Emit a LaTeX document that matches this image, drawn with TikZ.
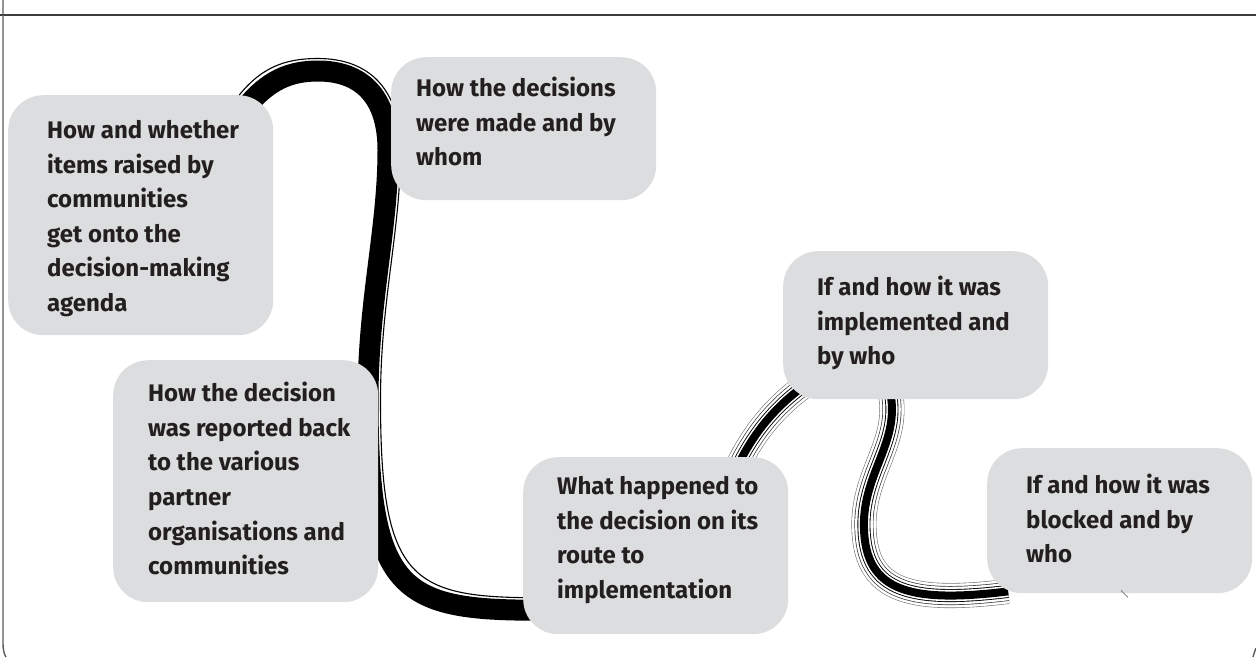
\documentclass[tikz,border=0pt]{standalone}
\usepackage{fontspec}
\setmainfont{Fira Sans}
\usetikzlibrary{backgrounds}
\definecolor{boxgray}{HTML}{DCDDDE}
\definecolor{txtc}{HTML}{231F20}
\definecolor{framec}{HTML}{3C3C3C}
\newcommand\drawstrand[1]{%
  \foreach \w/\c in {25/black!55, 23.8/white, 19/black!80, 17.6/white, 13/black, 11.2/white, 8/black}
    {\draw[line width=\w pt, draw=\c] #1;}}
\begin{document}
\begin{tikzpicture}[x=1pt,y=-1pt,
  box/.style={draw=none, fill=boxgray, rounded corners=35pt, minimum width=265pt, anchor=north west, inner sep=0pt},
  txt/.style={anchor=north west, inner sep=0pt, align=left, text=txtc, font=\bfseries\fontsize{24}{34.6}\selectfont},
  band/.style={line width=21pt, draw=black},
  bandedge/.style={line width=1.1pt, draw=black},
  frameline/.style={line width=2.2pt, draw=framec},
  sideline/.style={line width=1.4pt, draw=black!65}]
\useasboundingbox (0,0) rectangle (1256,657);
% frame
\draw[frameline] (0,15) -- (1256,15);
\draw[sideline] (3,0) -- (3,642) .. controls (3,650) and (4,654) .. (6,657);
\draw[sideline] (1256,648) .. controls (1254.5,652) and (1253.5,655) .. (1253,657);
% boxes
\node[box, minimum height=240pt] (a) at (8,95) {};
\node[box, minimum height=143pt] (b) at (391,57) {};
\node[box, minimum height=242pt] (c) at (113,360) {};
\node[box, minimum height=177pt] (d) at (523,457) {};
\node[box, minimum height=148pt] (e) at (783,251) {};
\node[box, minimum height=145pt] (f) at (987,448) {};
% texts
\node[txt] (ta) at ([shift={(39,25)}]a.north west) {How and whether\\items raised by\\communities\\get onto the\\decision-making\\agenda};
\node[txt] (tb) at ([shift={(25,20)}]b.north west) {How the decisions\\were made and by\\whom};
\node[txt] (tc) at ([shift={(35,22)}]c.north west) {How the decision\\was reported back\\to the various\\partner\\organisations and\\communities};
\node[txt] (td) at ([shift={(34,19)}]d.north west) {What happened to\\the decision on its\\route to\\implementation};
\node[txt] (te) at ([shift={(34,25)}]e.north west) {If and how it was\\implemented and\\by who};
\node[txt] (tf) at ([shift={(39,26)}]f.north west) {If and how it was\\blocked and by\\who};
\begin{pgfonlayer}{background}
% main thick band from a to d
\draw[band] ([shift={(-28,13)}]a.north east) .. controls (268,80) and (290,71) .. (318,71)
  .. controls (360,71) and (388,95) .. (388,150)
  .. controls (388,230) and (368,300) .. (368,400)
  .. controls (368,590) and (400,610) .. ([shift={(12,64.5)}]d.west);
\draw[bandedge] ([shift={(-38,5)}]a.north east) .. controls (260,67) and (285,58.5) .. (318,58.5)
  .. controls (368,58.5) and (400.5,88) .. (400.5,150)
  .. controls (400.5,232) and (380.5,300) .. (380.5,400)
  .. controls (380.5,578) and (410,597.5) .. ([shift={(12,52)}]d.west);
% strands d -> e -> f
\drawstrand{([shift={(80,13)}]d.north) .. controls (752,435) and (775,405) .. ([shift={(29,-19)}]e.south west)}
\drawstrand{([shift={(-25.5,-7)}]e.south) .. controls (900,440) and (866,470) .. (864,520)
  .. controls (862,590) and (905,604) .. ([shift={(21,-2)}]f.south west)}
\end{pgfonlayer}
\draw[line width=0.8pt, draw=black!55] ([shift={(134,-3)}]f.south west) -- ([shift={(141,4)}]f.south west);
\end{tikzpicture}
\end{document}
